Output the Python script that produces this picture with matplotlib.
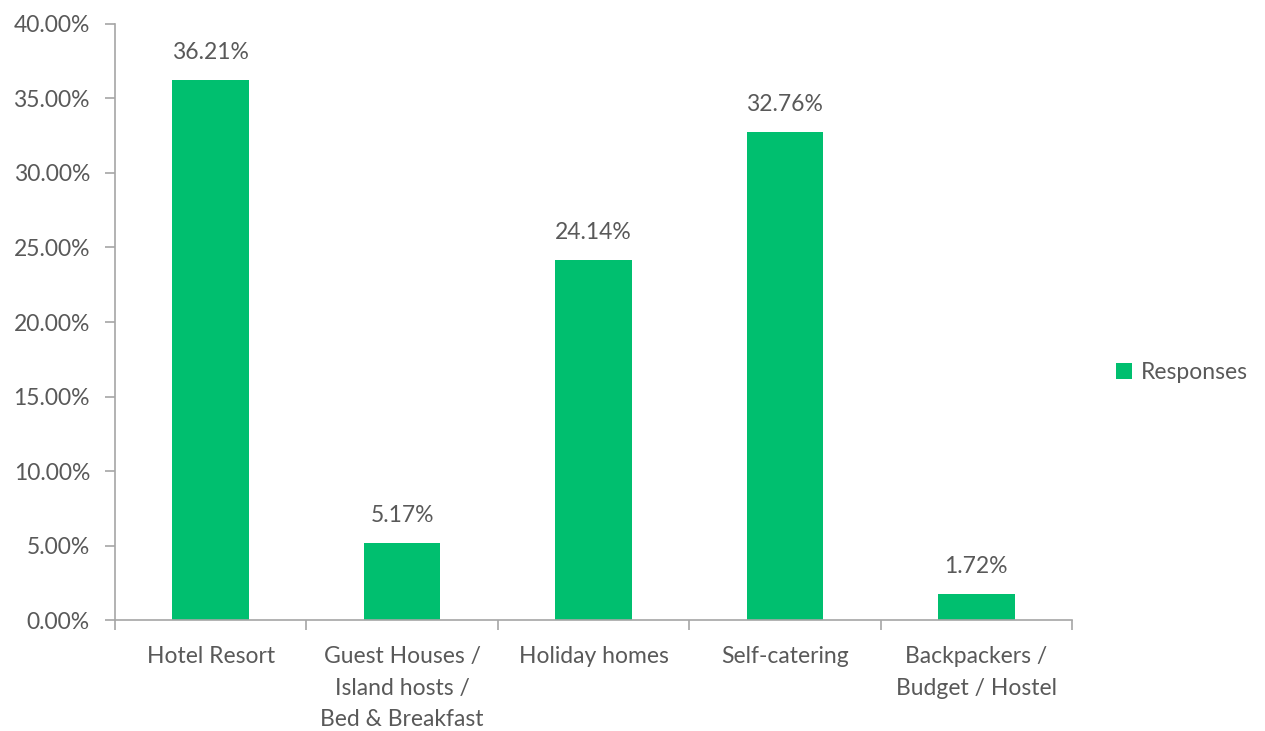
import matplotlib.pyplot as plt
from matplotlib.ticker import FuncFormatter, FixedLocator

# accommodation type preference (% of responses)
categories = ['Hotel Resort', 'Guest Houses /\nIsland hosts /\nBed & Breakfast',
              'Holiday homes', 'Self-catering', 'Backpackers /\nBudget / Hostel']
responses = [36.21, 5.17, 24.14, 32.76, 1.72]

green = '#00BF6F'
grey_text = '#595959'
axis_grey = '#A6A6A6'
fs = 16.5

plt.rcParams['font.family'] = ['Lato', 'DejaVu Sans']

fig = plt.figure(figsize=(12.65, 7.31), dpi=100)
ax = fig.add_axes([0.0909, 0.1518, 0.7565, 0.8154])

x = range(len(categories))
bars = ax.bar(x, responses, width=0.4, color=green, label='Responses')

# value labels above each bar
for xi, v in zip(x, responses):
    ax.text(xi, v + 1.15, f'{v:.2f}%', ha='center', va='bottom',
            fontsize=fs, color=grey_text)

ax.set_xlim(-0.5, len(categories) - 0.5)
ax.set_ylim(0, 40)
ax.set_yticks(range(0, 41, 5))
ax.yaxis.set_major_formatter(FuncFormatter(lambda v, p: f'{v:.2f}%'))

# category labels centred, ticks on the boundaries
ax.set_xticks(list(x))
ax.set_xticklabels(categories, fontsize=fs, color=grey_text, linespacing=1.6)
ax.tick_params(axis='x', length=0, pad=19)
ax.xaxis.set_minor_locator(FixedLocator([i - 0.5 for i in range(len(categories) + 1)]))
ax.tick_params(axis='x', which='minor', length=7, color=axis_grey, width=1.2)
ax.tick_params(axis='y', labelsize=fs, labelcolor=grey_text, length=7,
               color=axis_grey, width=1.2, pad=11)

for side in ['top', 'right']:
    ax.spines[side].set_visible(False)
for side in ['left', 'bottom']:
    ax.spines[side].set_color(axis_grey)
    ax.spines[side].set_linewidth(1.2)

leg = fig.legend(loc='center left', bbox_to_anchor=(0.866, 0.49), frameon=False,
                 fontsize=fs, handlelength=0.7, handleheight=0.7, handletextpad=0.4)
for t in leg.get_texts():
    t.set_color(grey_text)

fig.savefig('out.png', dpi=100)
